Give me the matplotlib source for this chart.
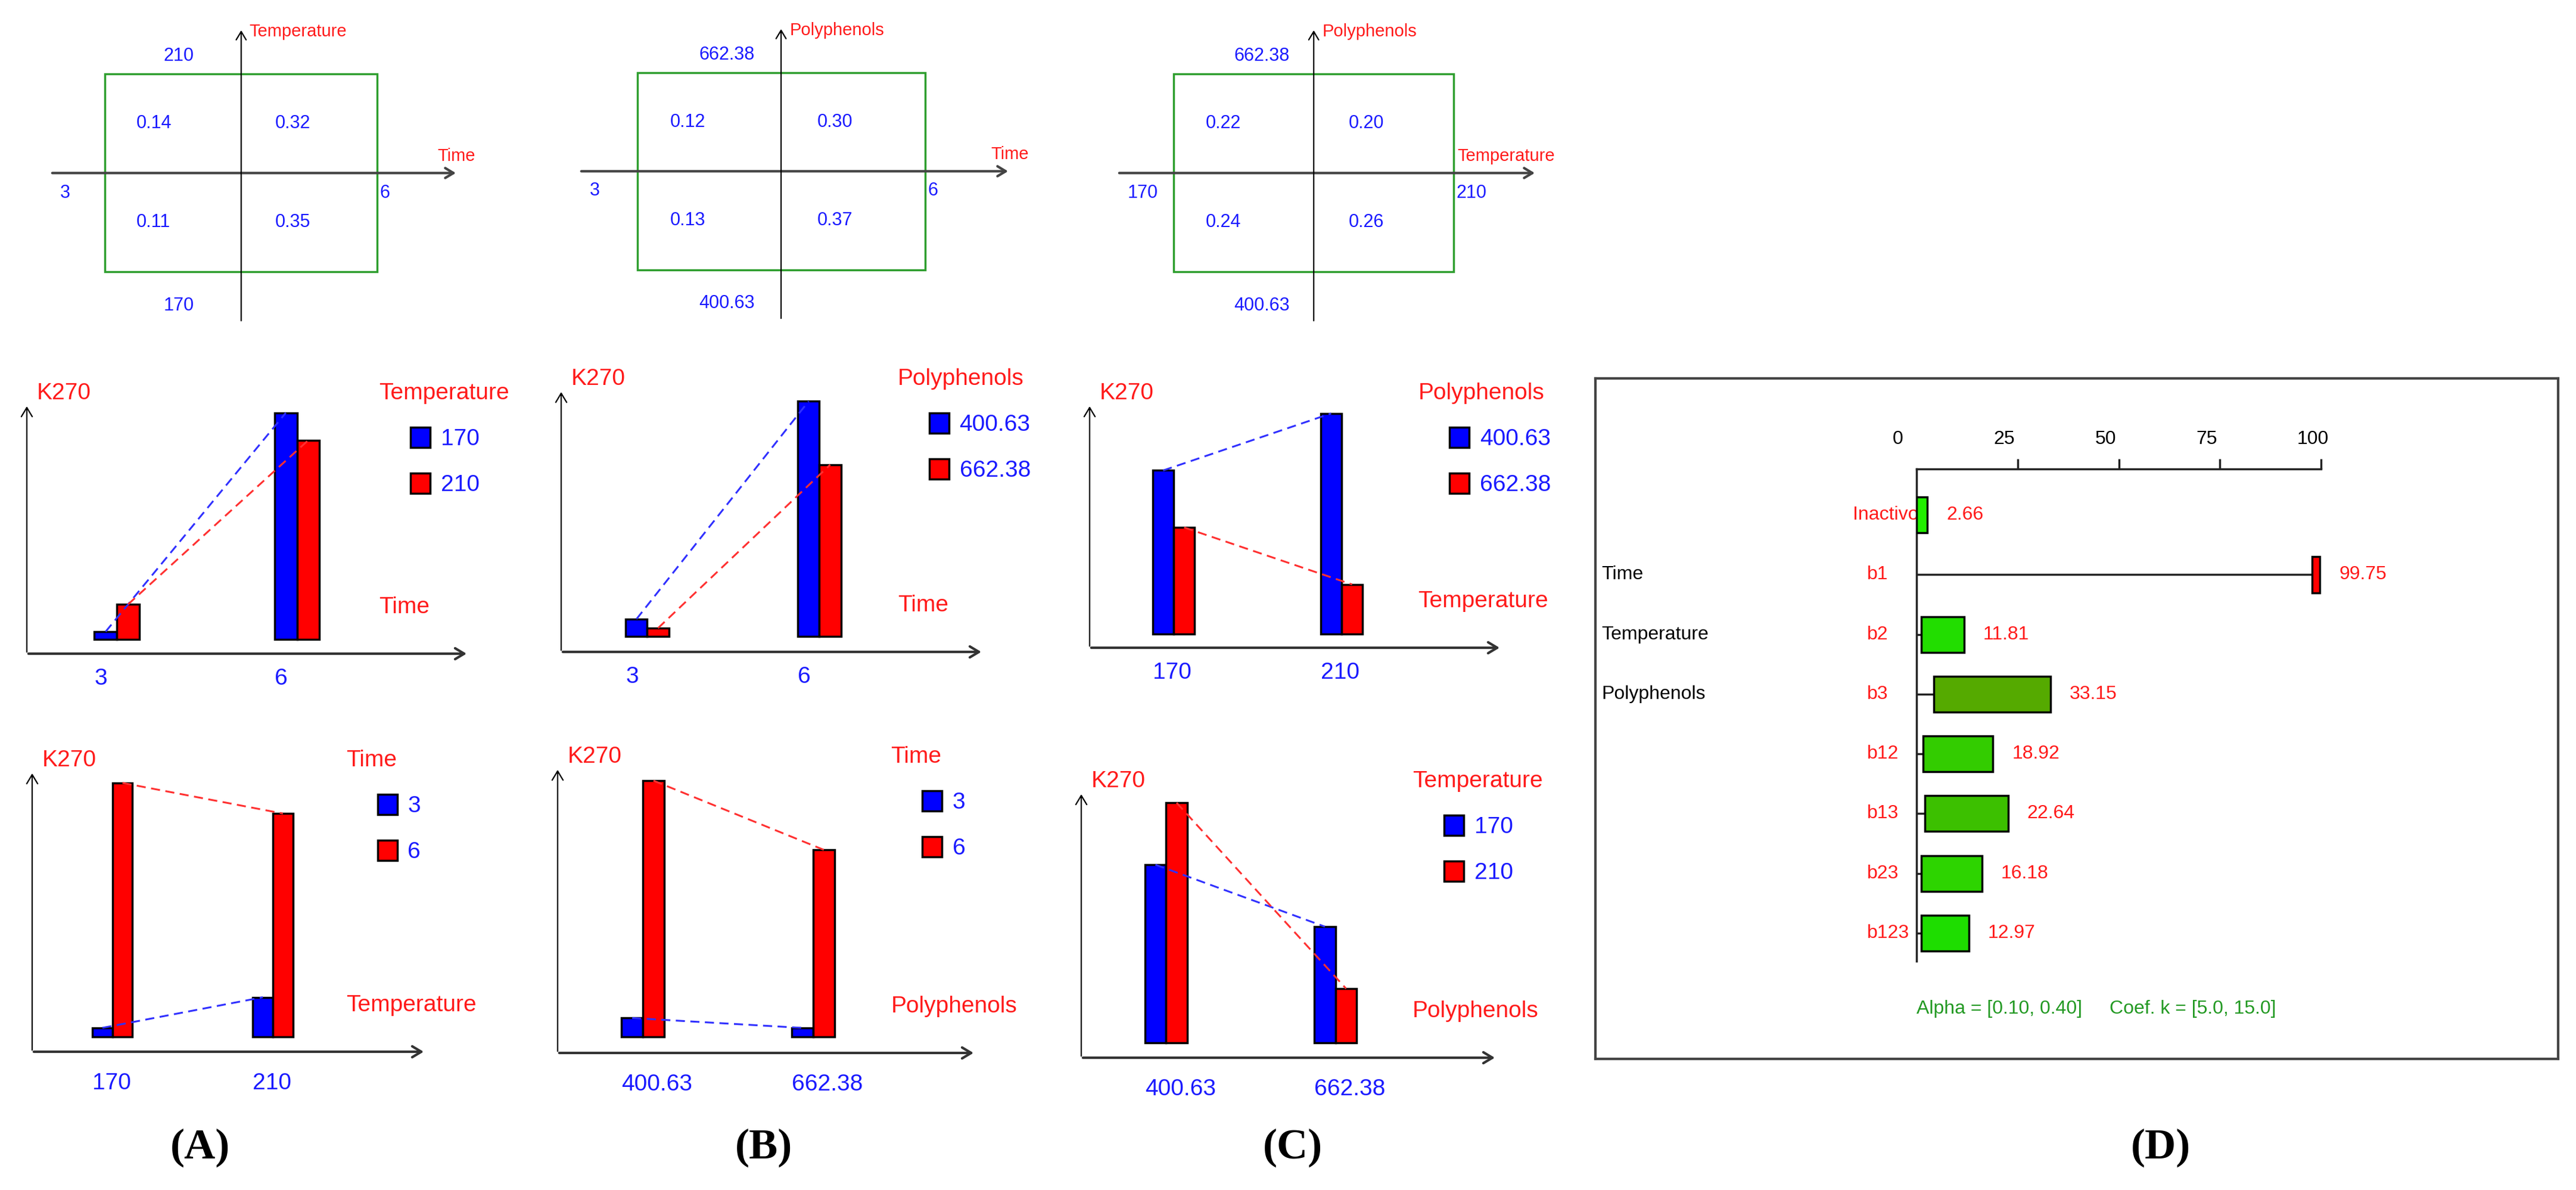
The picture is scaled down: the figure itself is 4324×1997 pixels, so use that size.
import matplotlib
matplotlib.use("Agg")
import matplotlib.pyplot as plt
import matplotlib.transforms as mtransforms
from matplotlib.patches import Rectangle
import numpy as np

plt.rcParams['font.family'] = ['Liberation Sans', 'DejaVu Sans']

# niveles de los factores
time_levels = ['3', '6']
temp_levels = ['170', '210']
poly_levels = ['400.63', '662.38']

# K270 medio por celda [nivel factor 1][nivel factor 2]
k270_time_temp = [[0.11, 0.14], [0.35, 0.32]]
k270_time_poly = [[0.13, 0.12], [0.37, 0.30]]
k270_temp_poly = [[0.24, 0.22], [0.26, 0.20]]

# efectos (panel D)
effect_labels = ['Inactivo', 'b1', 'b2', 'b3', 'b12', 'b13', 'b23', 'b123']
effect_values = [2.66, 99.75, 11.81, 33.15, 18.92, 22.64, 16.18, 12.97]
effect_starts = [0.0, 97.8, 1.2, 4.3, 1.6, 2.1, 1.2, 1.2]
effect_colors = ['#22ee00', '#ff0000', '#22dd00', '#55aa00', '#33cc00', '#3cc000', '#2dd400', '#1edd00']
factor_names = ['Time', 'Temperature', 'Polyphenols']
alpha_text = 'Alpha = [0.10, 0.40]'
coef_text = 'Coef. k = [5.0, 15.0]'

W, H = 4324, 1997
fig = plt.figure(figsize=(W / 100, H / 100), dpi=100)

RED = '#ff1a1a'
BLUE = '#1a1aff'


def px_axes(x0, y0, x1, y1):
    return fig.add_axes([x0 / W, 1 - y1 / H, (x1 - x0) / W, (y1 - y0) / H])


def quad_panel(rect, means, xname, yname, xlev, ylev):
    ax = px_axes(*rect)
    ax.set_xlim(-1.4, 1.59)
    ax.set_ylim(-1.51, 1.46)
    ax.axis('off')
    ax.add_patch(Rectangle((-1, -1), 2, 2, fill=False, ec='#2e9e2e', lw=2.5))
    ax.annotate('', xy=(1.59, 0), xytext=(-1.4, 0),
                arrowprops=dict(arrowstyle='->,head_length=0.5,head_width=0.3',
                                lw=3, color='#444444', mutation_scale=20))
    ax.annotate('', xy=(0, 1.46), xytext=(0, -1.51),
                arrowprops=dict(arrowstyle='->,head_length=0.5,head_width=0.3',
                                lw=1.6, color='black', mutation_scale=20))
    m = np.array(means)
    for i, xp in enumerate([-0.77, 0.25]):
        for j, yp in enumerate([-0.5, 0.5]):
            ax.text(xp, yp, f'{m[i, j]:.2f}', color=BLUE, fontsize=22, ha='left', va='center')
    ax.text(-0.57, 1.18, ylev[1], color=BLUE, fontsize=22, ha='left', va='center')
    ax.text(-0.57, -1.34, ylev[0], color=BLUE, fontsize=22, ha='left', va='center')
    ax.text(-1.33, -0.2, xlev[0], color=BLUE, fontsize=22, ha='left', va='center')
    ax.text(1.02, -0.2, xlev[1], color=BLUE, fontsize=22, ha='left', va='center')
    ax.text(1.72, 0.17, xname, color=RED, fontsize=21, ha='right', va='center')
    ax.text(0.06, 1.43, yname, color=RED, fontsize=21, ha='left', va='center')


def inter_panel(rect, cats, v_lo, v_hi, series, title, xname, base, ylim, pad):
    ax = px_axes(*rect)
    ax.set_xlim(-0.5, 1.95)
    ax.set_ylim(*ylim)
    for s in ax.spines.values():
        s.set_visible(False)
    x = np.arange(len(cats))
    w = 0.125
    v_lo = np.asarray(v_lo)
    v_hi = np.asarray(v_hi)
    b_lo = ax.bar(x - w / 2, v_lo - base, w, bottom=base, color='#0000ff', ec='black', lw=2.5, zorder=2)
    b_hi = ax.bar(x + w / 2, v_hi - base, w, bottom=base, color='#ff0000', ec='black', lw=2.5, zorder=2)
    ax.plot(x - w / 2, v_lo, color='#3030ff', lw=2.2, dashes=(5, 3), zorder=3)
    ax.plot(x + w / 2, v_hi, color='#ff3030', lw=2.2, dashes=(5, 3), zorder=3)
    ax.annotate('', xy=(1, 0), xytext=(0, 0), xycoords='axes fraction',
                arrowprops=dict(arrowstyle='->,head_length=0.5,head_width=0.3',
                                lw=3, color='#333333', mutation_scale=22))
    ax.annotate('', xy=(0, 1), xytext=(0, 0), xycoords='axes fraction',
                arrowprops=dict(arrowstyle='->,head_length=0.5,head_width=0.3',
                                lw=1.6, color='black', mutation_scale=22))
    ax.set_xticks(x - w, labels=cats, ha='left')
    ax.set_yticks([])
    ax.tick_params(axis='x', length=0, pad=pad, labelsize=28, labelcolor=BLUE)
    ax.annotate('K270', (0, 1), xycoords='axes fraction', xytext=(12, 14),
                textcoords='offset points', ha='left', va='center', color=RED, fontsize=28)
    ax.annotate(title, (0.798, 1), xycoords='axes fraction', xytext=(0, 14),
                textcoords='offset points', ha='left', va='center', color=RED, fontsize=28)
    ax.annotate(xname, (0.798, 0), xycoords='axes fraction', xytext=(0, 56),
                textcoords='offset points', ha='left', va='center', color=RED, fontsize=28)
    off = mtransforms.ScaledTranslation(0.53, -0.38, fig.dpi_scale_trans)
    ax.legend([b_lo, b_hi], series, loc='upper left', bbox_to_anchor=(0.798, 1.0),
              bbox_transform=ax.transAxes + off, frameon=False, borderpad=0,
              borderaxespad=0, handlelength=0.85, handleheight=0.95,
              handletextpad=0.45, labelspacing=1.0, fontsize=28, labelcolor=BLUE)


# fila superior: cuadrados de interaccion
quad_panel((85, 48, 768, 541), k270_time_temp, 'Time', 'Temperature', time_levels, temp_levels)
quad_panel((973, 46, 1695, 537), k270_time_poly, 'Time', 'Polyphenols', time_levels, poly_levels)
quad_panel((1876, 48, 2579, 541), k270_temp_poly, 'Temperature', 'Polyphenols', temp_levels, poly_levels)

# fila central: x = primer factor, series = segundo factor
m = np.array(k270_time_temp)
inter_panel((45, 679, 786, 1097), time_levels, m[:, 0], m[:, 1], temp_levels,
            'Temperature', 'Time', 0.1015, (0.0858, 0.359), 17)
m = np.array(k270_time_poly)
inter_panel((942, 655, 1650, 1094), time_levels, m[:, 0], m[:, 1], poly_levels,
            'Polyphenols', 'Time', 0.1109, (0.0938, 0.382), 17)
m = np.array(k270_temp_poly)
inter_panel((1829, 679, 2520, 1087), temp_levels, m[:, 0], m[:, 1], poly_levels,
            'Polyphenols', 'Temperature', 0.1826, (0.1778, 0.2631), 17)

# fila inferior: x = segundo factor, series = primer factor
m = np.array(k270_time_temp)
inter_panel((54, 1295, 714, 1765), temp_levels, m[0, :], m[1, :], time_levels,
            'Time', 'Temperature', 0.1012, (0.0866, 0.361), 25)
m = np.array(k270_time_poly)
inter_panel((936, 1289, 1637, 1767), poly_levels, m[0, :], m[1, :], time_levels,
            'Time', 'Polyphenols', 0.111, (0.0947, 0.3827), 25)
m = np.array(k270_temp_poly)
inter_panel((1815, 1330, 2512, 1775), poly_levels, m[0, :], m[1, :], temp_levels,
            'Temperature', 'Polyphenols', 0.1825, (0.1777, 0.2633), 25)

# panel D: marco + grafico de efectos
frame = px_axes(2678, 635, 4294, 1777)
frame.set_xticks([])
frame.set_yticks([])
for s in frame.spines.values():
    s.set_linewidth(3)
    s.set_color('#444444')

axd = px_axes(3217, 787, 3896, 1613)
axd.patch.set_alpha(0)
rows = np.arange(len(effect_labels))
vals = np.array(effect_values)
starts = np.array(effect_starts)
axd.hlines(rows, 0, starts, color='#222222', lw=2.5, zorder=2)
axd.barh(rows, vals - starts, left=starts, height=0.6, color=effect_colors,
         ec='black', lw=2.5, zorder=3)
axd.set_xlim(0, 100)
axd.set_ylim(7.47, -0.77)
axd.spines['right'].set_visible(False)
axd.spines['bottom'].set_visible(False)
axd.spines['top'].set_linewidth(2.5)
axd.spines['left'].set_linewidth(2.5)
axd.spines['top'].set_color('#222222')
axd.spines['left'].set_color('#222222')
axd.xaxis.tick_top()
axd.set_xticks([0, 25, 50, 75, 100])
axd.set_yticks([])
axd.tick_params(axis='x', direction='out', length=12, width=2.5, color='#222222',
                labelsize=23, pad=13)
axd.xaxis.get_major_ticks()[0].tick2line.set_visible(False)
shift = mtransforms.ScaledTranslation(-0.40, 0, fig.dpi_scale_trans)
for lab in axd.get_xticklabels():
    lab.set_ha('left')
    lab.set_transform(lab.get_transform() + shift)

for r, (lab, v) in enumerate(zip(effect_labels, vals)):
    if lab == 'Inactivo':
        axd.text(-15.8, r, lab, color=RED, fontsize=23, ha='left', va='center', zorder=1, clip_on=False)
    else:
        axd.text(-12.2, r, lab, color=RED, fontsize=23, ha='left', va='center', clip_on=False)
    axd.text(v + 4.7, r, f'{v:.2f}', color=RED, fontsize=23, ha='left', va='center', clip_on=False)
for r, name in enumerate(factor_names, start=1):
    axd.text(-77.8, r, name, color='black', fontsize=23, ha='left', va='center', clip_on=False)
axd.text(0, 8.27, alpha_text, color='#229922', fontsize=23, ha='left', va='center', clip_on=False)
axd.text(47.7, 8.27, coef_text, color='#229922', fontsize=23, ha='left', va='center', clip_on=False)

# etiquetas de los paneles
for lab, xp in zip(['(A)', '(B)', '(C)', '(D)'], [336, 1282, 2170, 3627]):
    fig.text(xp / W, 1 - 1926 / H, lab, fontsize=52, fontweight='bold',
             family='Liberation Serif', ha='center', va='center')

fig.savefig('out.png', dpi=100)
